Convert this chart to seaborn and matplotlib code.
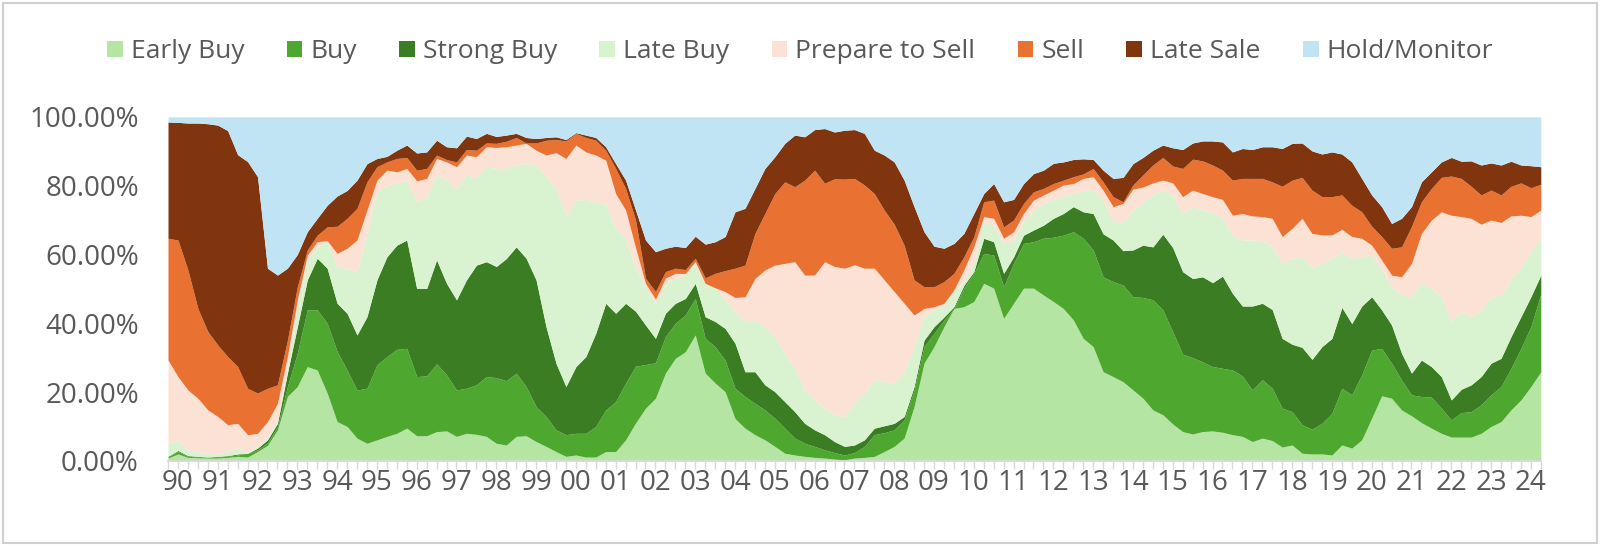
import numpy as np
import seaborn as sns
import matplotlib.pyplot as plt
from matplotlib.patches import Rectangle, Patch

# quarterly points, 1990Q1 .. 2024Q3; values are cumulative tops of each band (%)
years = ['90', '91', '92', '93', '94', '95', '96', '97', '98', '99', '00', '01',
         '02', '03', '04', '05', '06', '07', '08', '09', '10', '11', '12', '13',
         '14', '15', '16', '17', '18', '19', '20', '21', '22', '23', '24']

labels = ['Early Buy', 'Buy', 'Strong Buy', 'Late Buy', 'Prepare to Sell',
          'Sell', 'Late Sale', 'Hold/Monitor']

early_buy_top = [
    0.8, 2.0, 1.0, 0.9, 0.8, 0.8, 1.0, 1.3, 1.1, 2.7,
    4.5, 9.0, 18.7, 21.6, 27.4, 26.4, 19.7, 11.4, 10.0, 6.6,
    5.1, 6.1, 7.1, 8.0, 9.5, 7.3, 7.3, 8.5, 8.7, 7.1,
    8.0, 7.7, 7.1, 5.1, 4.6, 7.1, 7.3, 5.6, 4.2, 2.7,
    1.3, 1.7, 1.1, 1.1, 2.7, 2.7, 6.1, 11.0, 15.3, 18.2,
    25.5, 29.8, 31.7, 36.6, 25.5, 22.6, 20.1, 12.3, 9.5, 7.6,
    6.1, 4.2, 2.2, 1.7, 1.3, 1.0, 0.8, 0.5, 0.3, 0.8,
    1.0, 1.3, 2.7, 4.2, 6.6, 15.8, 28.4, 33.2, 39.0, 44.3,
    44.8, 46.3, 51.6, 50.2, 41.4, 45.8, 50.2, 50.2, 48.2, 46.3,
    44.3, 41.0, 35.6, 33.2, 25.9, 24.5, 23.0, 20.6, 18.2, 14.8,
    13.4, 10.7, 8.5, 7.8, 8.5, 8.7, 8.3, 7.6, 7.1, 5.6,
    6.6, 5.9, 4.0, 4.6, 2.2, 2.0, 2.0, 1.7, 4.6, 3.7,
    6.1, 12.4, 18.9, 18.2, 14.8, 13.1, 11.1, 9.5, 8.0, 6.9,
    6.9, 6.9, 8.0, 10.0, 11.4, 14.8, 17.7, 21.6, 25.9]

buy_top = [
    1.1, 2.7, 1.3, 1.1, 1.0, 1.1, 1.3, 1.7, 2.2, 3.2,
    5.3, 10.0, 21.6, 31.3, 43.9, 43.9, 40.0, 31.8, 26.4, 20.6,
    21.1, 27.9, 30.3, 32.4, 32.7, 24.5, 24.7, 28.2, 25.0, 20.6,
    21.1, 22.1, 24.5, 24.2, 23.3, 25.5, 21.6, 15.8, 12.9, 9.0,
    7.6, 8.0, 8.0, 10.0, 14.8, 17.2, 22.6, 27.5, 28.0, 28.5,
    36.1, 40.0, 42.4, 47.2, 35.6, 33.2, 29.3, 21.1, 18.7, 16.7,
    14.8, 12.4, 9.5, 6.6, 5.1, 4.2, 3.2, 2.4, 1.7, 2.4,
    4.2, 7.6, 8.2, 9.0, 11.9, 20.6, 33.2, 37.1, 40.9, 43.9,
    50.2, 54.5, 60.3, 59.8, 50.6, 57.4, 63.2, 63.7, 64.7, 65.0,
    65.6, 66.6, 64.7, 61.3, 53.5, 52.1, 51.1, 47.7, 47.5, 46.8,
    43.9, 37.5, 31.0, 30.0, 28.8, 27.4, 26.9, 26.4, 24.7, 20.6,
    23.6, 21.1, 15.3, 14.3, 10.5, 9.2, 10.9, 13.8, 21.1, 19.2,
    25.0, 32.2, 32.7, 28.4, 23.5, 19.2, 18.7, 18.5, 15.3, 11.9,
    14.0, 14.3, 16.3, 19.2, 21.6, 26.9, 32.7, 39.0, 48.5]

strong_buy_top = [
    1.3, 3.0, 1.5, 1.3, 1.1, 1.3, 1.5, 2.0, 2.2, 3.7,
    6.1, 10.9, 25.5, 39.0, 52.6, 58.9, 56.0, 45.8, 42.9, 36.6,
    41.9, 52.6, 59.3, 62.7, 64.2, 50.1, 50.1, 58.4, 51.6, 46.8,
    52.6, 56.9, 57.9, 56.5, 58.8, 62.2, 58.9, 52.6, 39.0, 28.4,
    21.6, 27.4, 30.3, 37.1, 45.8, 42.9, 45.8, 43.5, 39.5, 35.6,
    42.9, 45.8, 47.2, 51.6, 41.9, 40.5, 38.5, 34.2, 25.9, 25.9,
    22.1, 20.1, 17.2, 14.3, 10.9, 9.0, 7.6, 5.6, 4.2, 4.6,
    6.1, 9.5, 10.2, 10.9, 12.9, 21.6, 35.1, 39.0, 41.8, 44.8,
    51.0, 55.0, 64.7, 63.7, 54.5, 59.3, 65.6, 67.1, 68.5, 70.5,
    71.9, 73.9, 72.4, 71.9, 66.0, 64.2, 61.1, 61.3, 62.7, 62.2,
    65.9, 62.0, 55.0, 53.0, 53.5, 51.8, 53.7, 48.7, 45.0, 45.0,
    45.8, 44.0, 35.6, 33.9, 33.0, 29.5, 33.2, 35.6, 44.6, 39.9,
    45.0, 47.7, 43.9, 39.5, 31.3, 25.5, 29.3, 27.4, 24.5, 17.7,
    20.8, 22.1, 24.5, 28.4, 29.8, 36.1, 41.9, 47.7, 54.0]

late_buy_top = [
    5.1, 5.9, 3.2, 2.7, 2.2, 1.9, 2.7, 3.7, 2.6, 4.2,
    7.0, 11.5, 27.4, 44.8, 58.4, 62.2, 63.7, 56.4, 56.0, 55.0,
    66.1, 78.2, 80.2, 80.8, 81.6, 75.3, 76.8, 83.1, 81.6, 79.2,
    83.1, 82.4, 85.5, 85.0, 85.0, 86.0, 86.4, 86.0, 82.6, 79.2,
    71.4, 75.8, 76.0, 75.3, 74.8, 67.6, 64.7, 56.0, 50.6, 45.8,
    51.6, 53.1, 54.0, 57.4, 51.6, 50.3, 46.8, 43.4, 40.4, 40.9,
    39.0, 36.1, 31.3, 26.9, 20.6, 17.7, 15.3, 13.4, 12.9, 16.7,
    19.7, 23.6, 23.0, 22.6, 25.9, 33.2, 41.9, 43.9, 45.3, 49.2,
    52.1, 58.0, 69.5, 68.5, 63.2, 64.2, 69.5, 72.9, 74.8, 76.0,
    76.8, 77.7, 78.7, 78.7, 75.8, 69.5, 69.5, 72.9, 75.3, 77.3,
    78.7, 77.2, 71.9, 73.8, 72.9, 72.1, 70.5, 65.6, 64.2, 64.2,
    64.0, 62.2, 57.4, 58.9, 59.2, 56.0, 57.4, 58.9, 60.5, 58.9,
    59.3, 59.9, 55.5, 50.7, 48.2, 47.7, 51.6, 50.1, 47.7, 40.5,
    43.4, 42.0, 43.9, 47.7, 48.2, 53.0, 56.4, 60.8, 65.2]

prepare_top = [
    29.3, 24.5, 20.6, 18.2, 14.8, 12.9, 10.5, 10.9, 7.6, 8.0,
    11.4, 16.7, 30.3, 46.8, 59.8, 63.7, 64.0, 60.3, 61.8, 64.2,
    72.9, 81.6, 84.5, 84.0, 85.0, 81.4, 82.1, 87.9, 86.9, 85.5,
    88.9, 88.4, 91.3, 91.1, 91.3, 91.8, 92.3, 90.3, 88.9, 89.6,
    87.9, 91.8, 89.8, 88.9, 87.4, 77.7, 72.9, 62.0, 51.6, 47.0,
    53.1, 54.5, 54.5, 57.9, 50.1, 50.1, 49.2, 47.5, 47.7, 53.0,
    55.5, 56.9, 57.4, 57.9, 54.0, 54.0, 57.9, 56.5, 56.0, 57.0,
    56.0, 56.0, 52.6, 49.2, 45.8, 42.4, 44.3, 44.8, 45.8, 49.7,
    55.5, 62.2, 71.0, 70.5, 64.7, 66.6, 71.9, 75.8, 77.3, 78.7,
    80.2, 80.6, 82.1, 82.6, 78.7, 73.9, 74.8, 79.0, 79.6, 80.8,
    81.6, 80.8, 76.8, 78.7, 77.7, 76.8, 76.0, 71.4, 71.9, 71.2,
    71.0, 70.5, 65.2, 67.6, 70.5, 66.1, 65.7, 65.7, 67.3, 65.2,
    64.7, 62.7, 58.4, 54.0, 53.5, 57.4, 66.1, 70.0, 72.4, 71.4,
    71.0, 70.5, 68.8, 70.0, 69.3, 71.2, 71.4, 71.0, 72.9]

sell_top = [
    64.7, 64.2, 55.5, 44.3, 37.6, 33.7, 30.3, 27.4, 21.1, 19.7,
    21.1, 22.1, 35.0, 50.6, 61.3, 65.6, 68.0, 68.2, 70.5, 73.4,
    81.1, 85.5, 86.9, 87.9, 88.2, 84.5, 85.0, 88.9, 87.6, 86.9,
    90.5, 90.3, 92.4, 92.3, 92.9, 94.0, 92.4, 92.4, 93.2, 93.4,
    93.0, 95.2, 94.0, 93.2, 90.3, 85.0, 79.2, 70.0, 53.1, 49.2,
    55.0, 56.0, 55.6, 58.9, 53.2, 54.5, 55.3, 56.0, 56.9, 66.1,
    71.9, 77.7, 81.1, 79.7, 81.6, 84.5, 80.7, 82.0, 81.9, 82.1,
    80.2, 77.7, 72.9, 68.8, 62.7, 52.6, 50.6, 50.6, 52.1, 54.5,
    59.3, 65.1, 75.3, 75.8, 68.0, 70.0, 74.8, 78.2, 79.2, 80.6,
    81.6, 82.6, 83.4, 85.0, 81.1, 76.8, 75.3, 80.2, 83.1, 86.0,
    88.2, 85.7, 85.0, 87.7, 87.2, 86.0, 84.5, 81.6, 82.1, 82.1,
    82.1, 81.1, 79.8, 81.6, 82.4, 78.7, 76.8, 76.8, 77.3, 74.3,
    72.4, 68.2, 65.2, 61.8, 62.2, 68.1, 75.3, 79.2, 82.4, 82.8,
    82.1, 79.8, 77.3, 78.7, 77.3, 79.8, 80.8, 79.4, 80.4]

late_sale_top = [
    98.5, 98.4, 98.2, 98.2, 98.0, 97.6, 96.0, 89.0, 87.0, 82.6,
    56.0, 54.0, 56.0, 60.0, 66.6, 70.5, 74.3, 77.0, 78.6, 81.6,
    86.4, 87.9, 88.5, 90.3, 91.8, 89.5, 89.8, 93.2, 91.3, 91.0,
    94.4, 93.7, 95.2, 94.3, 94.7, 95.2, 94.0, 93.7, 94.0, 94.2,
    93.4, 95.4, 94.7, 94.0, 91.3, 86.4, 81.6, 72.9, 64.2, 60.8,
    61.8, 62.4, 62.0, 65.3, 63.0, 63.7, 65.2, 72.4, 73.4, 79.2,
    85.0, 88.4, 92.3, 94.7, 94.2, 96.3, 96.6, 95.6, 96.1, 96.3,
    95.2, 90.3, 88.9, 86.9, 81.6, 73.9, 66.6, 62.4, 61.8, 63.2,
    66.1, 71.9, 77.7, 80.6, 75.3, 76.0, 80.6, 83.5, 84.5, 86.5,
    86.9, 87.6, 87.8, 87.6, 84.5, 82.1, 82.4, 86.4, 88.2, 90.3,
    91.8, 91.0, 90.5, 92.4, 93.0, 93.0, 92.7, 89.8, 90.8, 90.5,
    91.3, 91.3, 90.8, 92.3, 92.4, 90.1, 89.2, 89.8, 89.2, 86.9,
    82.1, 77.3, 73.9, 69.0, 70.5, 73.9, 81.1, 84.0, 86.9, 88.2,
    87.1, 87.2, 86.0, 86.6, 86.0, 87.1, 86.0, 85.8, 85.5]

colors = ['#B4E5A2', '#4EA72E', '#3B7D23', '#D9F2D0', '#FBE2D5',
          '#E97132', '#80350E', '#C1E4F5']

tops = np.array([early_buy_top, buy_top, strong_buy_top, late_buy_top,
                 prepare_top, sell_top, late_sale_top], dtype=float)
assert tops.shape == (7, 139), tops.shape
tops = np.maximum.accumulate(tops, axis=0)
levels = np.vstack([np.zeros(tops.shape[1]), tops, np.full(tops.shape[1], 100.0)])
shares = np.diff(levels, axis=0) / 100.0
x = np.arange(tops.shape[1])

sns.set_theme(style='white')
plt.rcParams['font.family'] = ['Open Sans', 'DejaVu Sans']
txt = '#595959'

fig = plt.figure(figsize=(16, 5.46), dpi=100)
ax = fig.add_axes([0.105, 0.156, 0.858, 0.630])
ax.stackplot(x, shares, colors=colors, labels=labels, linewidth=0)

ax.set_xlim(0, x[-1])
ax.set_ylim(0, 1)
ax.set_yticks(np.linspace(0, 1, 6))
ax.set_yticklabels(['{:.2f}%'.format(v * 100) for v in np.linspace(0, 1, 6)])
ax.set_xticks(np.arange(len(years)) * 4 + 1)
ax.set_xticklabels(years)
ax.set_xticks(x, minor=True)
ax.tick_params(axis='x', which='both', direction='out', length=6, width=1,
               color='#d9d9d9', bottom=True, labelsize=20, labelcolor=txt, pad=0)
ax.tick_params(axis='y', length=0, labelsize=20, labelcolor=txt, pad=21)
for s in ['top', 'right', 'left']:
    ax.spines[s].set_visible(False)
ax.spines['bottom'].set_color('#d9d9d9')
ax.grid(False)

handles = [Patch(facecolor=c, edgecolor='none') for c in colors]
fig.legend(handles, labels, loc='center', bbox_to_anchor=(0.5, 0.905), ncol=8,
           frameon=False, fontsize=19, labelcolor=txt, handlelength=0.6,
           handleheight=0.6, handletextpad=0.3, columnspacing=1.6)

fig.patches.append(Rectangle((0.002, 0.005), 0.996, 0.99, transform=fig.transFigure,
                             fill=False, edgecolor='#d0d0d0', linewidth=1.5))

plt.savefig('out.png', dpi=100)
plt.close()
